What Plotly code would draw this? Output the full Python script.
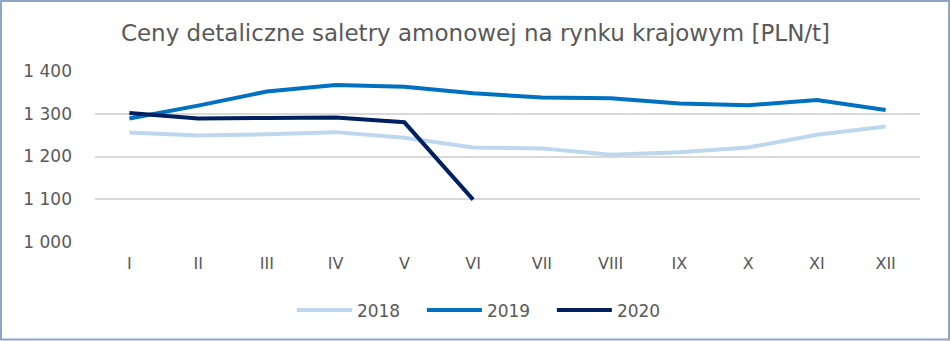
import plotly.graph_objects as go

months = ["I", "II", "III", "IV", "V", "VI", "VII", "VIII", "IX", "X", "XI", "XII"]
y2018 = [1256, 1249, 1252, 1257, 1244, 1221, 1219, 1204, 1210, 1221, 1251, 1270]
y2019 = [1289, 1319, 1352, 1367, 1363, 1348, 1338, 1336, 1324, 1320, 1332, 1309]
y2020 = [1302, 1289, 1290, 1291, 1280, 1099]
yticks = [1000, 1100, 1200, 1300, 1400]
ytick_text = ["1 000", "1 100", "1 200", "1 300", "1 400"]

series = [("2018", y2018, "#bdd7ee"), ("2019", y2019, "#0070c0"), ("2020", y2020, "#002060")]

fig = go.Figure()
for name, vals, col in series:
    fig.add_trace(go.Scatter(x=months[:len(vals)], y=vals, name=name, mode="lines",
                             line=dict(color=col, width=4)))

font = "DejaVu Sans"
fig.update_layout(
    width=951, height=341,
    margin=dict(l=95, r=31, t=71, b=99),
    paper_bgcolor="white", plot_bgcolor="white",
    title=dict(text="Ceny detaliczne saletry amonowej na rynku krajowym [PLN/t]",
               x=0.5, xanchor="center", y=1 - 33 / 341, yanchor="middle",
               font=dict(family=font, size=23, color="#595959")),
    xaxis=dict(categoryorder="array", categoryarray=months, range=[-0.5, 11.5],
               showgrid=False, showline=False, ticks="", zeroline=False,
               ticklabelstandoff=10,
               tickfont=dict(family=font, size=16, color="#595959")),
    yaxis=dict(range=[1000, 1400], tickvals=yticks, ticktext=ytick_text,
               showgrid=True, gridcolor="#d9d9d9", gridwidth=1.5, zeroline=False,
               ticks="", ticklabelstandoff=22,
               tickfont=dict(family=font, size=17, color="#595959")),
    legend=dict(orientation="h", x=0.475, xanchor="center", y=-0.4, yanchor="middle",
                itemwidth=55, entrywidth=60,
                font=dict(family=font, size=17, color="#595959")),
    showlegend=True,
    shapes=[dict(type="rect", xref="paper", yref="paper",
                 x0=(1 - 95) / 825, x1=(949 - 95) / 825,
                 y0=(242 - 339.5) / 171, y1=(242 - 1) / 171,
                 line=dict(color="#8ea5c8", width=2), fillcolor="rgba(0,0,0,0)", layer="below")],
)

fig.write_html("out.html")
